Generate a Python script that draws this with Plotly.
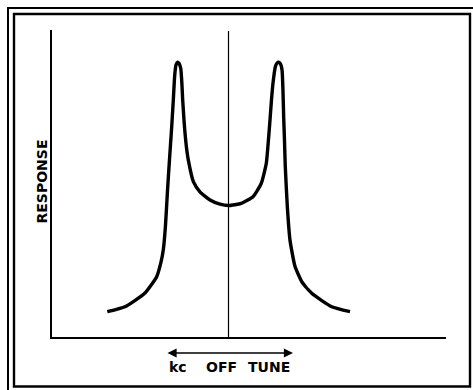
import plotly.graph_objects as go

# Double-humped response of an over-coupled tuned pair, relative to peak
kc_off = [-11.93, -10.19, -8.22, -7.07, -6.64, -6.42, -6.20, -6.00, -5.81, -5.61,
          -5.43, -5.30, -5.17, -5.04, -4.87, -4.70, -4.58, -4.51, -4.38, -4.28,
          -4.13, -3.96, -3.46, -2.81, -1.82, -0.84, 0.0,
          1.26, 2.41, 3.23, 3.72, 3.89, 4.06, 4.23, 4.38, 4.61, 4.77,
          4.94, 5.12, 5.27, 5.36, 5.43, 5.51, 5.59, 5.79, 6.05, 6.55,
          7.23, 8.19, 10.16, 11.96]
response = [0.092, 0.110, 0.160, 0.219, 0.273, 0.316, 0.407, 0.535, 0.644, 0.753,
            0.862, 0.949, 0.989, 0.999, 0.995, 0.977, 0.916, 0.862, 0.789, 0.741,
            0.687, 0.644, 0.565, 0.528, 0.498, 0.483, 0.478,
            0.486, 0.510, 0.559, 0.632, 0.698, 0.777, 0.862, 0.923, 0.983, 0.996,
            0.999, 0.993, 0.971, 0.898, 0.801, 0.716, 0.619, 0.474, 0.353, 0.256,
            0.200, 0.159, 0.110, 0.092]

x_title_words = ["kc", "OFF", "TUNE"]
y_title = "RESPONSE"

W, H = 473, 390
L, R, T, B = 52, 446, 30, 337  # plot area in pixels


def px(x):
    return (x - L) / (R - L)


def py(y):
    return (B - y) / (B - T)


fig = go.Figure()
fig.add_trace(go.Scatter(
    x=kc_off, y=response, mode="lines",
    line=dict(color="black", width=3.4, shape="spline", smoothing=0.5),
    hoverinfo="skip", showlegend=False,
))

font = dict(family="DejaVu Sans", size=14, color="black", weight="bold")

shapes = [
    # centre-frequency marker
    dict(type="line", xref="x", yref="paper", x0=0, x1=0, y0=0, y1=py(31),
         line=dict(color="black", width=1.2)),
    # double frame
    dict(type="rect", xref="paper", yref="paper", x0=px(8), x1=px(476), y0=py(393), y1=py(8),
         line=dict(color="black", width=2)),
    dict(type="rect", xref="paper", yref="paper", x0=px(14), x1=px(470), y0=py(386.5), y1=py(14),
         line=dict(color="black", width=2.4)),
]

annotations = [
    dict(text=y_title, xref="paper", yref="paper", x=px(41), y=py(181.5),
         textangle=-90, showarrow=False, font=font, xanchor="center", yanchor="middle"),
    # double-headed arrow under the frequency axis
    dict(text="", xref="paper", yref="paper", x=px(293), y=py(353), ax=-127, ay=0,
         showarrow=True, arrowside="end+start", arrowhead=2, arrowsize=1.3,
         arrowwidth=1.4, arrowcolor="black"),
]
for word, cx in zip(x_title_words, [177.5, 221.5, 268.7]):
    annotations.append(dict(text=word, xref="paper", yref="paper", x=px(cx), y=py(367),
                            showarrow=False, font=font, xanchor="center", yanchor="middle"))

fig.update_layout(
    width=W, height=H,
    margin=dict(l=L, r=W - R, t=T, b=H - B, pad=0),
    paper_bgcolor="white", plot_bgcolor="white",
    xaxis=dict(range=[(L - 228.5) / 10.16, (R - 228.5) / 10.16], showgrid=False, zeroline=False,
               showticklabels=False, ticks="", showline=True, linecolor="black", linewidth=2.2),
    yaxis=dict(range=[0, (B - T) / 275], showgrid=False, zeroline=False,
               showticklabels=False, ticks="", showline=True, linecolor="black", linewidth=2.2),
    shapes=shapes, annotations=annotations,
)

fig.write_html("out.html")
